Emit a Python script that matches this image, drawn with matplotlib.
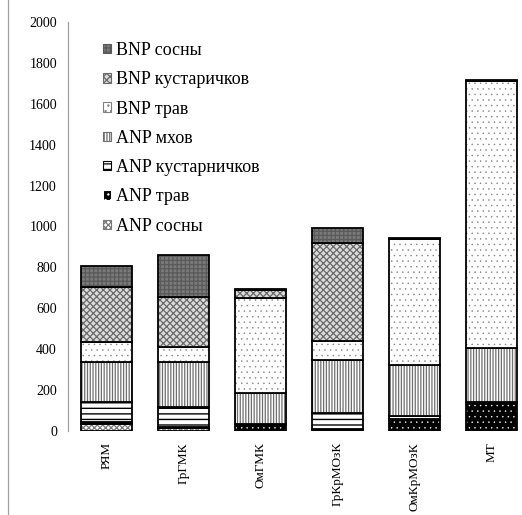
import matplotlib
matplotlib.use("Agg")
import matplotlib.pyplot as plt
from matplotlib.patches import Patch
from matplotlib.lines import Line2D
import numpy as np

plt.rcParams['font.family'] = ['Liberation Serif', 'DejaVu Serif']
plt.rcParams['hatch.linewidth'] = 0.9

categories = ['РЯМ', 'ГрГМК', 'ОмГМК', 'ГрКрМОзК', 'ОмКрМОзК', 'МТ']

# stacked segments, bottom to top
anp_sosny = [35, 15, 0, 0, 0, 0]
anp_trav = [7, 3, 35, 10, 57, 135]
anp_kust = [100, 97, 0, 78, 16, 5]
anp_mhov = [195, 220, 153, 257, 252, 265]
bnp_trav = [100, 75, 462, 95, 615, 1307]
bnp_kust = [268, 245, 40, 480, 0, 0]
bnp_sosny = [100, 205, 5, 75, 5, 5]

# label, values, face, hatch, hatch colour, hatch linewidth
series = [
    ('ANP сосны', anp_sosny, 'white', 'xxxxxx', '#7a7a7a', 0.9),
    ('ANP трав', anp_trav, 'black', '...', 'white', 0.3),
    ('ANP кустарничков', anp_kust, 'white', '---', 'black', 1.0),
    ('ANP мхов', anp_mhov, 'white', '||||||', '#6e6e6e', 0.9),
    ('BNP трав', bnp_trav, 'white', '...', '#808080', 0.3),
    ('BNP кустаричков', bnp_kust, '#dcdcdc', 'xxxxx', '#6a6a6a', 0.9),
    ('BNP сосны', bnp_sosny, '#7a7a7a', '++++', '#5a5a5a', 0.9),
]

fig = plt.figure(figsize=(5.22, 5.15), dpi=100)
ax = fig.add_axes([68/522, 84/515, 462/522, 409/515])

x = np.arange(len(categories))
w = 0.65
bottom = np.zeros(len(categories))
handles = []
for label, vals, fc, hatch, hc, hlw in series:
    v = np.array(vals, dtype=float)
    with plt.rc_context({'hatch.linewidth': hlw}):
        ax.bar(x, v, w, bottom=bottom, facecolor=fc, hatch=hatch, edgecolor=hc, linewidth=0)
        handles.append(Patch(facecolor=fc, hatch=hatch, edgecolor=hc, linewidth=0.8))
    ax.bar(x, v, w, bottom=bottom, fill=False, edgecolor='black', linewidth=1.3)
    bottom += v

ax.set_xlim(-0.5, len(categories) - 0.5)
ax.set_ylim(0, 2000)
ax.set_yticks(np.arange(0, 2001, 200))
ax.set_xticks(x)
ax.set_xticklabels(categories, rotation=90, fontsize=9.5, va='top')
ax.tick_params(axis='both', length=0)
ax.tick_params(axis='y', labelsize=10, pad=8)
ax.tick_params(axis='x', pad=8)
for s in ['top', 'right', 'bottom']:
    ax.spines[s].set_visible(False)
ax.spines['left'].set_color('#a0a0a0')
ax.spines['left'].set_linewidth(0.9)

leg = fig.legend(handles[::-1], [s[0] for s in series][::-1], loc='upper left',
                 bbox_to_anchor=(103/522, 1 - 42/515), frameon=False,
                 fontsize=13, handlelength=0.42, handleheight=0.42,
                 handletextpad=0.3, labelspacing=0.68, borderpad=0, borderaxespad=0)

fig.add_artist(Line2D([8/522, 8/522], [0, 1], transform=fig.transFigure,
                      color='#a0a0a0', linewidth=0.9))

fig.savefig('out.png', dpi=100)
